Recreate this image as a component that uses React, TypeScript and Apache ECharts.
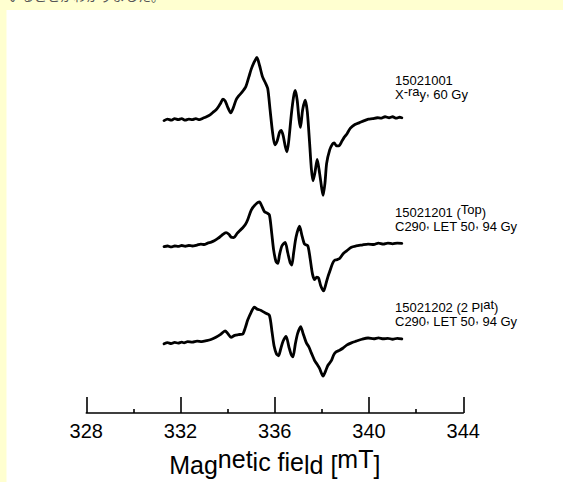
import React, { useEffect, useRef } from "react";
import * as echarts from "echarts";

// ---- data ----
const xTicks = [328, 332, 336, 340, 344];

const labels1 = ["15021001", "X-ray, 60 Gy"];
const labels2 = ["15021201 (Top)", "C290, LET 50, 94 Gy"];
const labels3 = ["15021202 (2 Plat)", "C290, LET 50, 94 Gy"];

// vertical offsets of each spectrum's baseline (plot units)
const baselineOffsets = [302, 173, 74];

const field1 = [331.3, 331.45, 331.6, 331.75, 331.9, 332.05, 332.2, 332.35, 332.5, 332.65, 332.8, 332.95, 333.1, 333.25, 333.4, 333.5, 333.6, 333.7, 333.8, 333.9, 334.0, 334.13, 334.25, 334.35, 334.45, 334.6, 334.77, 334.9, 335.0, 335.1, 335.24, 335.35, 335.48, 335.6, 335.7, 335.8, 335.9, 336.0, 336.1, 336.2, 336.27, 336.35, 336.45, 336.52, 336.6, 336.7, 336.8, 336.87, 336.95, 337.03, 337.09, 337.18, 337.29, 337.38, 337.48, 337.55, 337.62, 337.7, 337.8, 337.9, 338.0, 338.05, 338.13, 338.2, 338.33, 338.45, 338.52, 338.62, 338.72, 338.85, 338.95, 339.05, 339.2, 339.4, 339.6, 339.8, 339.97, 340.15, 340.35, 340.5, 340.68, 340.85, 341.0, 341.15, 341.3, 341.39];
const signal1 = [-1, 0.5, -0.5, 1, 0, 1, -0.5, 0.5, 0, 1, 0, 1.5, 3, 5, 8, 10, 13, 17, 21, 19, 13, 7, 13, 20, 24, 28, 34, 44, 52, 58, 64, 56, 44, 38, 32, 10, -12, -26, -22, -13, -11, -16, -28, -33, -20, 5, 24, 30, 20, 0, -8, 10, 20, 8, -25, -50, -63, -55, -41, -55, -72, -78, -65, -45, -31, -25, -24, -27, -27, -22, -18, -15, -9, -5, -3, -1, 0.5, 1, 2, 1.5, 3, 2, 3, 1.5, 2.5, 2];

const field2 = [331.3, 331.45, 331.6, 331.75, 331.9, 332.05, 332.2, 332.35, 332.5, 332.7, 332.86, 333.0, 333.15, 333.3, 333.43, 333.6, 333.75, 333.93, 334.05, 334.15, 334.26, 334.4, 334.52, 334.64, 334.75, 334.85, 335.0, 335.15, 335.35, 335.45, 335.56, 335.66, 335.77, 335.87, 335.95, 336.05, 336.13, 336.2, 336.3, 336.44, 336.55, 336.65, 336.72, 336.8, 336.9, 337.05, 337.15, 337.26, 337.4, 337.5, 337.6, 337.69, 337.78, 337.86, 337.95, 338.07, 338.17, 338.25, 338.33, 338.45, 338.54, 338.65, 338.75, 338.9, 339.05, 339.25, 339.45, 339.7, 339.96, 340.2, 340.4, 340.6, 340.8, 341.0, 341.2, 341.39];
const signal2 = [-1.7, -1, -2, -1, -1.5, -0.5, -1.3, -0.5, -1, 0, 1, 0.5, 2, 3, 4.3, 7, 10, 12.7, 11, 8, 7.7, 12, 15, 17.7, 21, 26, 36, 41, 44.3, 40, 34.3, 33, 31, 12, -5, -17, -19, -10, -1, 2.7, -8, -18, -20.7, -8, 8, 19.3, 10, 1, -0.7, -14, -30, -35.7, -33, -34, -42, -47.3, -40, -33, -27.3, -19, -15.7, -15, -14, -9, -6, -2.3, -1, 0, 1, 0.5, 2, 1, 2, 1.2, 2, 1.7];

const field3 = [331.3, 331.45, 331.6, 331.75, 331.9, 332.05, 332.15, 332.3, 332.5, 332.7, 332.9, 333.1, 333.29, 333.5, 333.7, 333.89, 334.0, 334.14, 334.3, 334.45, 334.55, 334.64, 334.75, 334.85, 335.0, 335.13, 335.25, 335.42, 335.6, 335.77, 335.88, 335.97, 336.07, 336.16, 336.25, 336.35, 336.48, 336.6, 336.7, 336.77, 336.87, 336.97, 337.1, 337.2, 337.34, 337.45, 337.55, 337.69, 337.8, 337.9, 338.05, 338.15, 338.25, 338.4, 338.5, 338.6, 338.75, 338.9, 339.05, 339.25, 339.45, 339.7, 339.96, 340.2, 340.4, 340.6, 340.8, 341.0, 341.2, 341.39];
const signal3 = [-2.7, -1.5, -2.5, -1.2, -2, -1, -1.7, -0.5, -1, 0, -0.5, 0.5, 1.7, 4, 7, 10.7, 8, 4, 6, 6.7, 7, 7.3, 14, 21.7, 30, 35, 33, 31.7, 29, 26.7, 10, -5, -13, -15, -8, 0, 5, -6, -14, -16, -3, 8, 15, 8, -1.7, -6, -12, -20, -24, -28, -36, -31, -25, -20, -14, -11, -9.3, -7, -4, -1.7, 0, 2, 3.3, 2.5, 3.5, 2.5, 3, 2, 3, 2.3];

const spectra = [
  { field: field1, signal: signal1 },
  { field: field2, signal: signal2 },
  { field: field3, signal: signal3 },
];

const FONT = "'Liberation Sans', Arial, sans-serif";

function richStyles(size: number, raise: number, half: number, lineHeight?: number) {
  const base: any = { fontSize: size, fontFamily: FONT, color: "#000", verticalAlign: "bottom" as const };
  if (lineHeight) base.lineHeight = lineHeight;
  return {
    n: { ...base },
    u: { ...base, padding: [0, 0, raise, 0] },
    s: { ...base, padding: [0, 0, half, 0] },
  };
}

// build rich strings from the plain labels
function richXray(t: string) {
  // "X-ray, 60 Gy"
  return `{n|${t.slice(0, 1)}}{u|${t.slice(1, 4)}}{n|${t.slice(4, 5)}}{u|${t.slice(5, 6)}}{n|${t.slice(6)}}`;
}
function richRaised(line: string, raisedWord: string) {
  const i = line.indexOf(raisedWord);
  return `{n|${line.slice(0, i)}}{u|${raisedWord}}{n|${line.slice(i + raisedWord.length)}}`;
}
function richC(line: string) {
  const parts = line.split(",");
  return parts.map((p, i) => `{n|${p}}` + (i < parts.length - 1 ? "{u|,}" : "")).join("");
}

export default function App() {
  const ref = useRef<HTMLDivElement>(null);

  useEffect(() => {
    document.body.style.margin = "0";
    if (!ref.current) return;
    const chart = echarts.init(ref.current, undefined, { renderer: "svg" });

    const series = spectra.map((s, k) => ({
      type: "line" as const,
      data: s.field.map((f, i) => [f, s.signal[i] + baselineOffsets[k]]),
      showSymbol: false,
      symbol: "none",
      smooth: 0.25,
      lineStyle: { color: "#000", width: 2.8, join: "round" as const, cap: "round" as const },
      silent: true,
    }));

    const labelX = 395;
    const note = (text: string, y: number, lh: number) => ({
      type: "text" as const,
      x: labelX,
      y,
      silent: true,
      style: {
        text,
        font: `13px ${FONT}`,
        fill: "#000",
        textVerticalAlign: "middle",
        rich: richStyles(13, 3, 2, lh),
      },
    });

    chart.setOption({
      animation: false,
      backgroundColor: "#FFFFD0",
      grid: { left: 86.3, right: 99.7, top: 40, bottom: 58 },
      xAxis: {
        type: "value",
        min: xTicks[0],
        max: xTicks[xTicks.length - 1],
        interval: 4,
        axisLine: { show: true, onZero: false, lineStyle: { color: "#000", width: 1.6 } },
        axisTick: { show: true, inside: true, length: 16, lineStyle: { color: "#000", width: 1.6 } },
        minorTick: { show: true, splitNumber: 2, length: 4, lineStyle: { color: "#000", width: 1.6 } },
        splitLine: { show: false },
        minorSplitLine: { show: false },
        axisLabel: { color: "#000", fontSize: 20, fontFamily: FONT, margin: 8 },
        name: "{n|Ma}{n|g}{u|net}{s|ic} {s|fie}{n|ld} {n|[}{u|mT}{n|]}",
        nameLocation: "middle",
        nameGap: 30,
        nameTextStyle: {
          fontSize: 25,
          fontFamily: FONT,
          color: "#000",
          rich: richStyles(25, 6, 3),
        },
      },
      yAxis: { type: "value", min: 0, max: 384, show: false },
      graphic: [
        {
          type: "rect",
          z: -10,
          silent: true,
          shape: { x: 6.5, y: 10, width: 560, height: 480 },
          style: { fill: "#FFFFFF" },
        },
        {
          type: "text",
          x: 8,
          y: 2,
          silent: true,
          style: {
            text: "いることがわかりました。",
            font: `13px 'Noto Sans CJK JP', sans-serif`,
            fill: "#555",
            textVerticalAlign: "bottom",
          },
        },
        note(`{n|${labels1[0]}}\n${richXray(labels1[1])}`, 87, 14),
        note(`${richRaised(labels2[0], "Top")}\n${richC(labels2[1])}`, 219, 14),
        note(`${richRaised(labels3[0], "at")}\n${richC(labels3[1])}`, 314, 14),
      ],
      series,
    });

    return () => chart.dispose();
  }, []);

  return <div ref={ref} style={{ width: 563, height: 482 }} />;
}
